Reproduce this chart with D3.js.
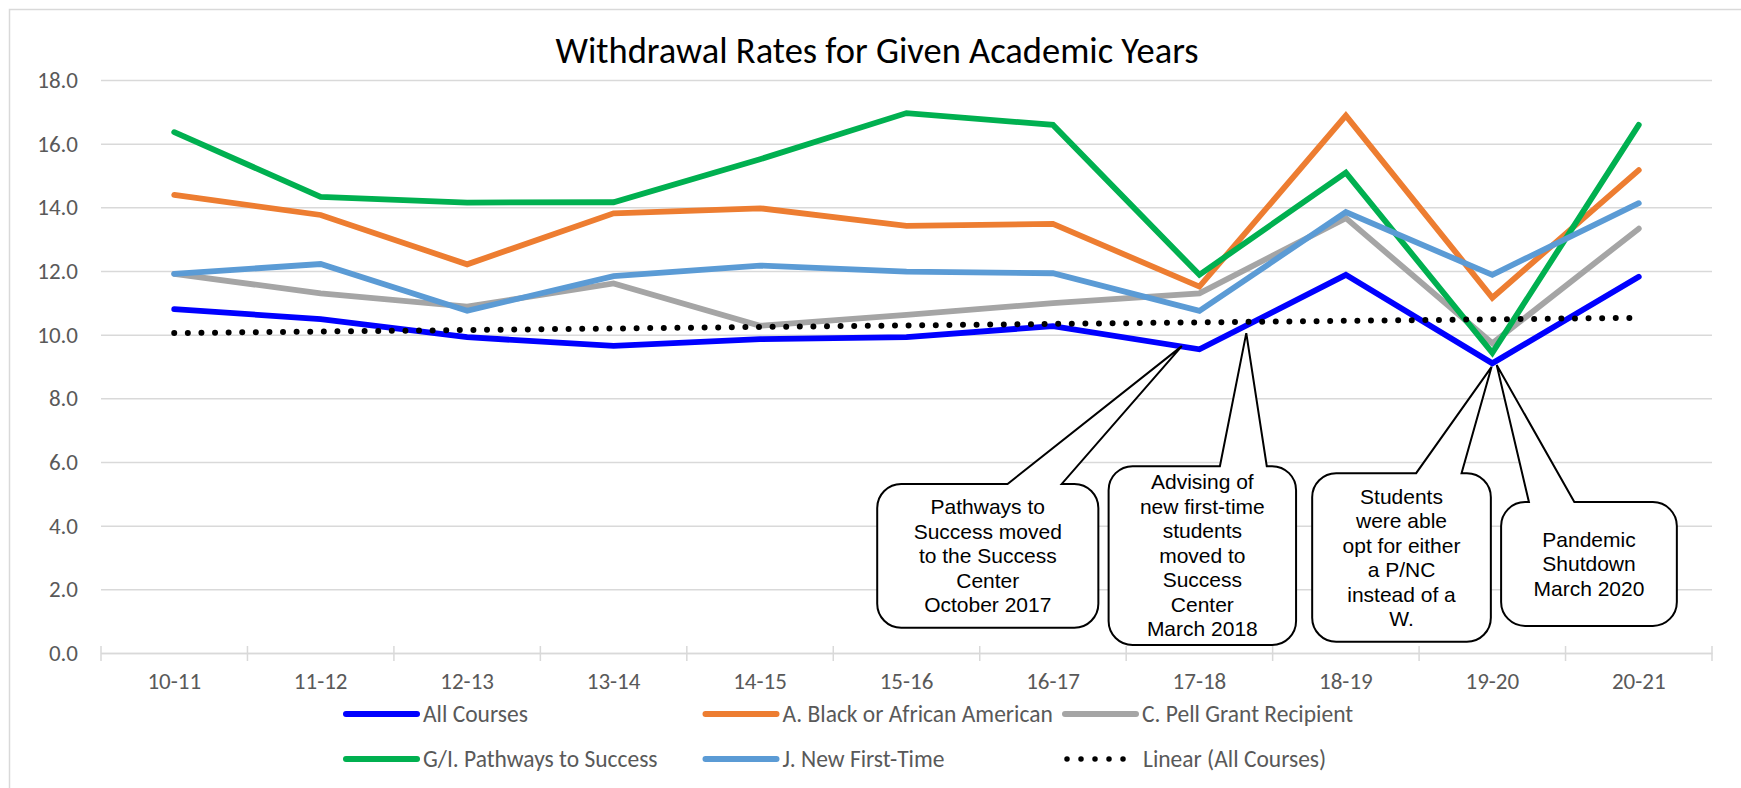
<!DOCTYPE html>
<meta charset="utf-8">
<script src="https://d3js.org/d3.v7.min.js"></script>
<style>
  body { margin: 0; background: #fff; }
  text { font-family: Carlito, Calibri, Lato, sans-serif; }
  .note text { font-family: "Liberation Sans", Arial, sans-serif; }
</style>
<div id="chart"></div>
<script>
  // academic years on the x axis
  var years = ["10-11", "11-12", "12-13", "13-14", "14-15", "15-16", "16-17", "17-18", "18-19", "19-20", "20-21"];

  // withdrawal rates (%)
  var allCourses   = [10.80, 10.49, 9.92, 9.65, 9.86, 9.92, 10.27, 9.54, 11.88, 9.10, 11.82];
  var blackAfAm    = [14.39, 13.76, 12.21, 13.81, 13.97, 13.42, 13.48, 11.51, 16.88, 11.16, 15.17];
  var pellGrant    = [11.91, 11.30, 10.88, 11.61, 10.28, 10.62, 10.99, 11.30, 13.66, 9.73, 13.33];
  var pathways     = [16.36, 14.33, 14.15, 14.16, 15.51, 16.96, 16.59, 11.88, 15.09, 9.43, 16.59];
  var newFirstTime = [11.91, 12.22, 10.75, 11.84, 12.17, 11.98, 11.93, 10.75, 13.85, 11.88, 14.13];

  // linear trend of All Courses, value at first and last year
  var trendEnds = [10.05, 10.53];

  var yTicks = [0, 2, 4, 6, 8, 10, 12, 14, 16, 18];

  var seriesNames  = ["All Courses", "A. Black or African American", "C. Pell Grant Recipient",
                      "G/I. Pathways to Success", "J. New First-Time"];
  var seriesValues = [allCourses, blackAfAm, pellGrant, pathways, newFirstTime];
  var seriesColors = ["#0000ff", "#ed7d31", "#a5a5a5", "#00b050", "#5b9bd5"];
  var trendName = "Linear (All Courses)";

  // callouts: box [left, right] in year index units, [top, bottom] in rate units,
  // pointer base along the top edge and tip, also in index / rate units
  var notes = [
    { lines: ["Pathways to", "Success moved", "to the Success", "Center", "October 2017"],
      x: [4.80, 6.31], y: [5.31, 0.79], base: [5.69, 6.06], tip: [6.88, 9.64] },
    { lines: ["Advising of", "new first-time", "students", "moved to", "Success", "Center", "March 2018"],
      x: [6.38, 7.66], y: [5.87, 0.25], base: [7.14, 7.46], tip: [7.32, 10.05] },
    { lines: ["Students", "were able", "opt for either", "a P/NC", "instead of a", "W."],
      x: [7.77, 8.99], y: [5.65, 0.35], base: [8.48, 8.79], tip: [8.995, 8.99] },
    { lines: ["Pandemic", "Shutdown", "March 2020"],
      x: [9.06, 10.26], y: [4.74, 0.85], base: [9.25, 9.56], tip: [9.03, 9.05] }
  ];

  var W = 1741, H = 788;
  var margin = { top: 80, right: 29, bottom: 135, left: 101 },
    width = W - margin.left - margin.right,
    height = H - margin.top - margin.bottom;

  var svg = d3.select("#chart")
    .append("svg")
    .attr("width", W)
    .attr("height", H);

  // chart frame
  svg.append("rect")
    .attr("x", 9.5).attr("y", 9.5)
    .attr("width", W + 20).attr("height", H + 20)
    .style("fill", "none")
    .style("stroke", "#d9d9d9")
    .style("stroke-width", 1.5);

  svg.append("text")
    .attr("x", 877)
    .attr("y", 63)
    .attr("text-anchor", "middle")
    .style("font-size", "36.5px")
    .style("fill", "#000")
    .text("Withdrawal Rates for Given Academic Years");

  var g = svg.append("g")
    .attr("transform", "translate(" + margin.left + "," + margin.top + ")");

  var x = d3.scaleBand()
    .domain(years)
    .range([0, width]);
  var xi = d3.scaleLinear()
    .domain([-0.5, years.length - 0.5])
    .range([0, width]);
  var y = d3.scaleLinear()
    .domain([0, 18])
    .range([height, 0]);

  // gridlines
  g.append("g")
    .call(d3.axisLeft(y).tickValues(yTicks).tickSize(-width).tickFormat(""))
    .call(function (s) {
      s.select(".domain").remove();
      s.selectAll("line").style("stroke", "#d9d9d9").style("stroke-width", 1.5);
    });

  // y labels
  g.append("g")
    .call(d3.axisLeft(y).tickValues(yTicks).tickSize(0).tickPadding(23).tickFormat(d3.format(".1f")))
    .call(function (s) {
      s.select(".domain").remove();
      s.selectAll("text").style("font-size", "23px").style("fill", "#595959")
        .style("font-family", "Carlito, Calibri, Lato, sans-serif");
    });

  // x axis with ticks on category boundaries
  var gx = g.append("g")
    .attr("transform", "translate(0," + height + ")")
    .call(d3.axisBottom(x).tickSize(0).tickPadding(20))
    .call(function (s) {
      s.select(".domain").style("stroke", "#d9d9d9").style("stroke-width", 1.5);
      s.selectAll("text").style("font-size", "23px").style("fill", "#595959")
        .style("font-family", "Carlito, Calibri, Lato, sans-serif");
    });
  gx.selectAll(".bound")
    .data(d3.range(years.length + 1))
    .enter().append("line")
    .attr("x1", function (d) { return d * x.step(); })
    .attr("x2", function (d) { return d * x.step(); })
    .attr("y1", -7).attr("y2", 8)
    .style("stroke", "#d9d9d9")
    .style("stroke-width", 1.5);

  var line = d3.line()
    .x(function (d, i) { return x(years[i]) + x.bandwidth() / 2; })
    .y(function (d) { return y(d); });

  g.selectAll(".series")
    .data(seriesValues)
    .enter().append("path")
    .attr("class", "series")
    .attr("d", line)
    .style("fill", "none")
    .style("stroke", function (d, i) { return seriesColors[i]; })
    .style("stroke-width", 5.8)
    .style("stroke-linejoin", "miter")
    .style("stroke-linecap", "round");

  // trendline
  g.append("line")
    .attr("x1", x(years[0]) + x.bandwidth() / 2)
    .attr("x2", x(years[years.length - 1]) + x.bandwidth() / 2)
    .attr("y1", y(trendEnds[0]))
    .attr("y2", y(trendEnds[1]))
    .style("stroke", "#000")
    .style("stroke-width", 6)
    .style("stroke-linecap", "round")
    .style("stroke-dasharray", "0 13.6");

  // callouts
  var r = 24;
  function calloutPath(n) {
    var l = xi(n.x[0]), rt = xi(n.x[1]), t = y(n.y[0]), b = y(n.y[1]);
    var b1 = xi(n.base[0]), b2 = xi(n.base[1]);
    var tx = xi(n.tip[0]), ty = y(n.tip[1]);
    return "M" + (l + r) + "," + t +
      "L" + b1 + "," + t + "L" + tx + "," + ty + "L" + b2 + "," + t +
      "L" + (rt - r) + "," + t + "A" + r + "," + r + " 0 0 1 " + rt + "," + (t + r) +
      "L" + rt + "," + (b - r) + "A" + r + "," + r + " 0 0 1 " + (rt - r) + "," + b +
      "L" + (l + r) + "," + b + "A" + r + "," + r + " 0 0 1 " + l + "," + (b - r) +
      "L" + l + "," + (t + r) + "A" + r + "," + r + " 0 0 1 " + (l + r) + "," + t + "Z";
  }

  var note = g.selectAll(".note")
    .data(notes)
    .enter().append("g")
    .attr("class", "note");
  note.append("path")
    .attr("d", calloutPath)
    .style("fill", "#fff")
    .style("stroke", "#000")
    .style("stroke-width", 2);
  note.each(function (n) {
    var cx = (xi(n.x[0]) + xi(n.x[1])) / 2,
      cy = (y(n.y[0]) + y(n.y[1])) / 2,
      lh = 24.5;
    d3.select(this).selectAll("text")
      .data(n.lines)
      .enter().append("text")
      .attr("x", cx)
      .attr("y", function (d, i) { return cy + (i - (n.lines.length - 1) / 2) * lh; })
      .attr("dy", "0.35em")
      .attr("text-anchor", "middle")
      .style("font-size", "21px")
      .style("fill", "#000")
      .text(function (d) { return d; });
  });

  // legend
  var legendItems = seriesNames.map(function (d, i) { return { name: d, color: seriesColors[i], dotted: false }; });
  legendItems.push({ name: trendName, color: "#000", dotted: true });

  var legend = svg.selectAll(".legend")
    .data(legendItems)
    .enter().append("g")
    .attr("class", "legend")
    .attr("transform", function (d, i) {
      return "translate(" + (346 + (i % 3) * 359.5) + "," + (714 + Math.floor(i / 3) * 45) + ")";
    });
  legend.append("line")
    .attr("x1", function (d) { return d.dotted ? 2 : 0; })
    .attr("x2", function (d) { return d.dotted ? 59 : 71; })
    .style("stroke", function (d) { return d.color; })
    .style("stroke-width", function (d) { return d.dotted ? 5.5 : 6; })
    .style("stroke-linecap", "round")
    .style("stroke-dasharray", function (d) { return d.dotted ? "0 14" : null; });
  legend.append("text")
    .attr("x", function (d) { return d.dotted ? 78 : 77; })
    .attr("dy", "0.35em")
    .style("font-size", "23.5px")
    .style("fill", "#595959")
    .text(function (d) { return d.name; });
</script>
